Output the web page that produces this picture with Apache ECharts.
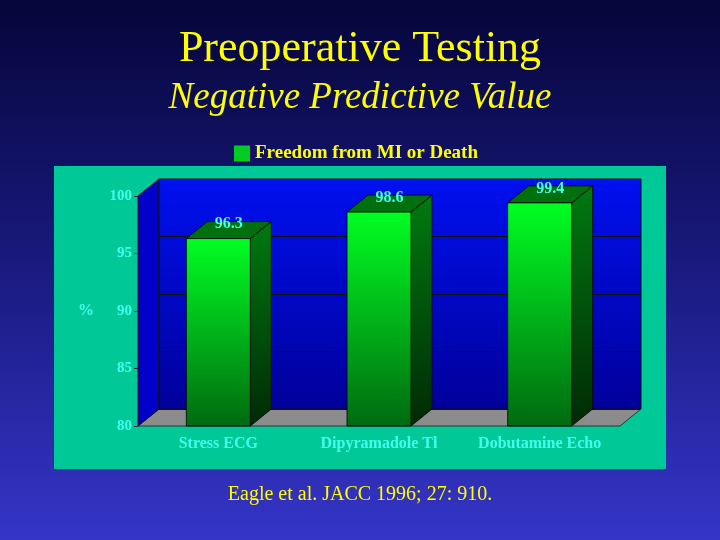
<!DOCTYPE html>
<html><head><meta charset="utf-8">
<script src="https://cdn.jsdelivr.net/npm/echarts@6/dist/echarts.min.js"></script>
<style>html,body{margin:0;padding:0;width:720px;height:540px;background:linear-gradient(#05053a,#1a1a80 50%,#3535c8);}#c{width:720px;height:540px;}</style>
</head><body><div id="c"></div>
<script>
const categories = ['Stress ECG', 'Dipyramadole Tl', 'Dobutamine Echo'];
const values = [96.3, 98.6, 99.4];
const yTicks = [80, 85, 90, 95, 100];
const DX = 21, DY = -17, BW = 64;
const chart = echarts.init(document.getElementById('c'));
const serif = 'Liberation Serif, Times New Roman, serif';
const barFill = new echarts.graphic.LinearGradient(0,0,0,1,[{offset:0,color:'#00ff22'},{offset:1,color:'#006a10'}]);
const sideFill = new echarts.graphic.LinearGradient(0,0,0,1,[{offset:0,color:'#007a10'},{offset:1,color:'#002a05'}]);
chart.setOption({
  backgroundColor: 'transparent',
  title: [
    {text:'Preoperative Testing', left:'center', top:22, textStyle:{color:'#ffff00', fontFamily:serif, fontSize:44, fontWeight:'normal'}},
    {text:'Negative Predictive Value', left:'center', top:75, textStyle:{color:'#ffff00', fontFamily:serif, fontSize:37, fontStyle:'italic', fontWeight:'normal'}}
  ],
  legend: {top:139, left:229, itemWidth:16, itemHeight:16, itemGap:12, icon:'rect', data:['Freedom from MI or Death'],
    textStyle:{color:'#ffff00', fontFamily:serif, fontSize:19, fontWeight:'bold'}},
  graphic: [
    {type:'rect', z:-10, shape:{x:54, y:166, width:612, height:303}, style:{fill:'#00c896'}},
    {type:'polygon', z:-5, shape:{points:[[138,426],[159,409],[641,409],[620,426]]}, style:{fill:'#8c8c8c', stroke:'#333', lineWidth:1}},
    {type:'polygon', z:-5, shape:{points:[[138,196],[159,179],[159,409],[138,426]]}, style:{fill:'#0000c8', stroke:'#111', lineWidth:1}},
    {type:'text', left:'center', top:485, style:{text:'Eagle et al. JACC 1996; 27: 910.', fill:'#ffff00', font:'20px '+serif}}
  ],
  grid: [
    {left:138, top:196, width:482, height:230},
    {left:159, top:179, width:482, height:230, show:true, borderColor:'#111', borderWidth:1,
      backgroundColor:new echarts.graphic.LinearGradient(0,0,0,1,[{offset:0,color:'#0010f0'},{offset:1,color:'#00009a'}])}
  ],
  xAxis: [
    {type:'category', gridIndex:0, data:categories, axisTick:{show:false}, axisLine:{show:false},
      axisLabel:{color:'#44ffee', fontFamily:serif, fontSize:16, fontWeight:'bold', margin:10}},
    {type:'category', gridIndex:1, data:categories, show:false}
  ],
  yAxis: [
    {type:'value', gridIndex:0, min:80, max:100, interval:5, name:'%', nameLocation:'middle', nameRotate:0, nameGap:44,
      nameTextStyle:{color:'#44ffee', fontFamily:serif, fontSize:16, fontWeight:'bold'},
      axisLine:{show:false}, axisTick:{show:true, length:4, lineStyle:{color:'#333'}}, splitLine:{show:false},
      axisLabel:{color:'#44ffee', fontFamily:serif, fontSize:15, fontWeight:'bold', margin:6, customValues:yTicks}},
    {type:'value', gridIndex:1, min:80, max:100, interval:5, axisLabel:{show:false}, axisLine:{show:false}, axisTick:{show:false},
      splitLine:{lineStyle:{color:'#111', width:1}}}
  ],
  series: [{
    name:'Freedom from MI or Death', type:'custom', xAxisIndex:0, yAxisIndex:0, itemStyle:{color:'#00cc22'},
    data: values.map((v,i)=>[i,v]),
    renderItem: function(params, api){
      const top = api.coord([api.value(0), api.value(1)]);
      const bot = api.coord([api.value(0), 80]);
      const x0 = top[0]-BW/2, x1 = top[0]+BW/2, y0 = top[1], y1 = bot[1];
      return {type:'group', children:[
        {type:'polygon', shape:{points:[[x1,y0],[x1+DX,y0+DY],[x1+DX,y1+DY],[x1,y1]]}, style:{fill:sideFill, stroke:'#000', lineWidth:0.8}},
        {type:'polygon', shape:{points:[[x0,y0],[x0+DX,y0+DY],[x1+DX,y0+DY],[x1,y0]]}, style:{fill:'#00700e', stroke:'#000', lineWidth:0.8}},
        {type:'rect', shape:{x:x0, y:y0, width:BW, height:y1-y0}, style:{fill:barFill, stroke:'#000', lineWidth:0.8}},
        {type:'text', style:{text:String(api.value(1)), x:top[0]+DX/2, y:y0+DY/2+2, align:'center', verticalAlign:'bottom',
          fill:'#44ffee', font:'bold 16px '+serif}}
      ]};
    }
  }]
});
</script></body></html>
